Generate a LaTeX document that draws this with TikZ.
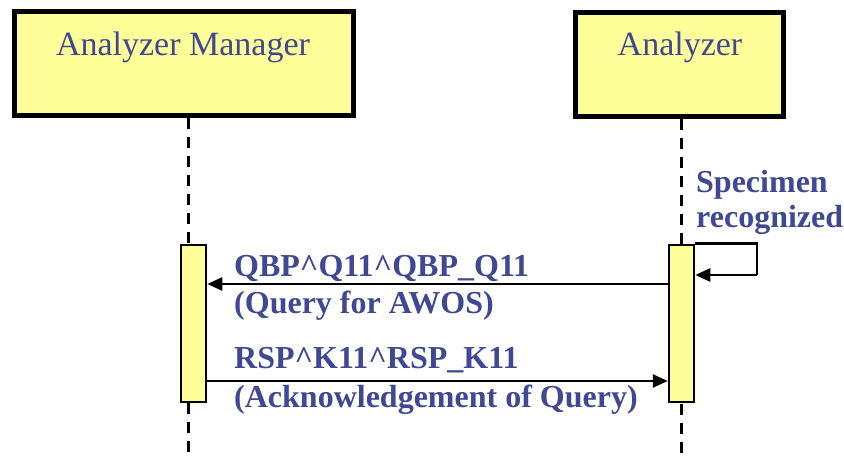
\documentclass[tikz,border=0pt]{standalone}
\usepackage{fontspec}
\setmainfont{Liberation Serif}
\usetikzlibrary{arrows.meta}
\definecolor{txtblue}{RGB}{64,72,148}
\definecolor{boxyellow}{RGB}{255,255,153}
\tikzset{
  headbox/.style={draw=black, fill=boxyellow, line width=5pt, inner sep=0pt},
  actbox/.style={draw=black, fill=boxyellow, line width=2.5pt, inner sep=0pt, minimum width=25pt, minimum height=157pt},
  lifeline/.style={draw=black, line width=3pt, dash pattern=on 11pt off 8pt},
  msg/.style={draw=black, line width=2.5pt, -{Triangle[length=15pt,width=13pt]}},
  titletxt/.style={text=txtblue, font=\fontsize{34}{40}\selectfont, inner sep=0pt, anchor=base},
  msgtxt/.style={text=txtblue, font=\fontsize{32}{37}\selectfont\bfseries, inner sep=0pt, anchor=base west},
}
\begin{document}
\begin{tikzpicture}[x=1pt,y=-1pt]
\useasboundingbox (0,0) rectangle (844,457);
% lifeline head boxes
\node[headbox, minimum width=339pt, minimum height=104pt] (am) at (184,63.5) {};
\node[headbox, minimum width=208pt, minimum height=104pt] (an) at (679.5,64.5) {};
\node[titletxt] (amt) at (183,56) {Analyzer Manager};
\node[titletxt] (ant) at (680,56) {Analyzer};
% lifelines
\coordinate (amtop) at (188,118);
\coordinate (ambot) at (188,457);
\coordinate (antop) at (681,119);
\coordinate (anbot) at (681,457);
\draw[lifeline] (amtop) -- (ambot);
\draw[lifeline] (antop) -- (anbot);
% activations
\node[actbox] (act1) at (193.5,323.5) {};
\node[actbox] (act2) at (681.5,323.5) {};
% self message
\coordinate (s1) at (757,245);
\coordinate (s2) at (757,275);
\draw[line width=2.5pt] (act2.north east) -- (act2.north east -| s1) -- (s2);
\draw[msg] (s2) -- (s2 -| act2.east);
\node[msgtxt] (spec1) at (696,193) {Specimen};
\node[msgtxt] (spec2) at (696,228) {recognized};
% messages
\coordinate (m1) at (668,284);
\draw[msg] (m1) -- (m1 -| act1.east);
\coordinate (m2) at (207,381);
\draw[msg] (m2) -- (m2 -| act2.west);
\node[msgtxt] (q1) at (234,277) {QBP\^{}Q11\^{}QBP\_Q11};
\node[msgtxt] (q2) at (234,314) {(Query for AWOS)};
\node[msgtxt] (r1) at (234,368) {RSP\^{}K11\^{}RSP\_K11};
\node[msgtxt] (r2) at (234,407) {(Acknowledgement of Query)};
\end{tikzpicture}
\end{document}
